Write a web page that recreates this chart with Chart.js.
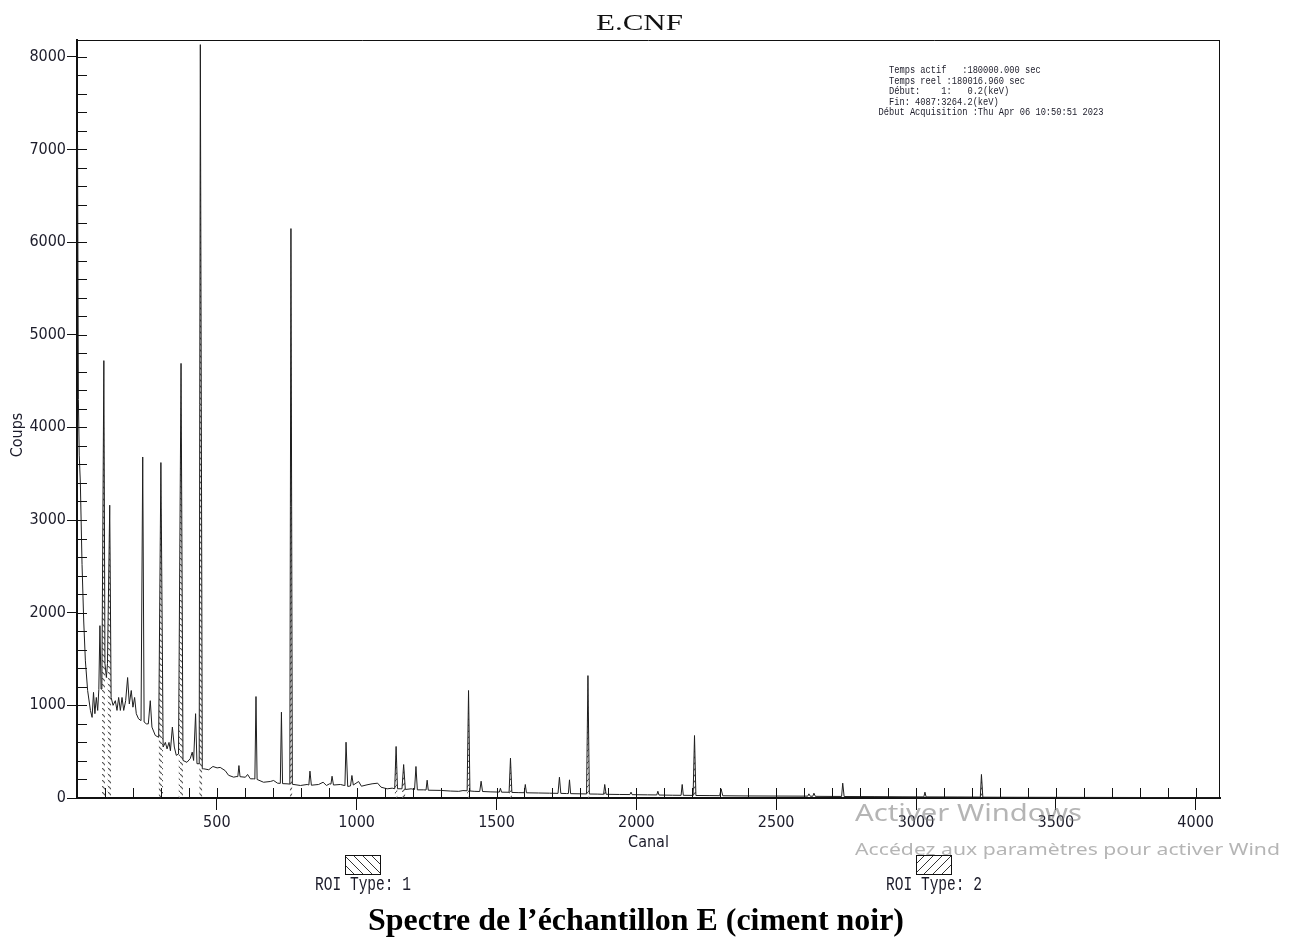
<!DOCTYPE html>
<html><head><meta charset="utf-8">
<script src="https://cdn.jsdelivr.net/npm/chart.js@4.4.1/dist/chart.umd.min.js"></script>
<style>html,body{margin:0;padding:0;background:#fff;}canvas{display:block}</style>
</head><body>
<canvas id="c" width="1293" height="937"></canvas>
<script>
// ---- data ----
const channels = [0,2,5,8,12,18,24,30,38,48,54,59,64,69,74,78,82,86,89,96,100,105,109,117,122,129,137,143,149,155,161,167,174,181,187,194,200,206,212,220,229,235,240,248,255,262,268,280,292,300,308,316,322,329,334,341,348,355,363,372,379,393,405,412,417,424,429,437,441,448,453,471,486,501,512,530,542,560,572,575,579,583,602,610,620,632,636,640,644,667,691,703,717,727,731,735,751,761,765,770,799,823,829,833,838,864,880,892,903,908,912,917,942,956,958,962,968,978,983,988,1007,1017,1037,1055,1075,1087,1109,1127,1136,1141,1146,1162,1168,1174,1195,1207,1212,1217,1240,1248,1252,1256,1299,1335,1365,1380,1395,1400,1405,1420,1440,1445,1450,1480,1510,1514,1518,1545,1550,1555,1580,1599,1603,1607,1650,1690,1720,1725,1730,1750,1757,1761,1765,1800,1822,1827,1832,1860,1883,1887,1892,1940,1977,1981,1985,2040,2073,2077,2081,2130,2160,2164,2168,2203,2208,2213,2260,2298,2303,2309,2400,2500,2613,2617,2622,2631,2635,2640,2700,2734,2738,2743,2850,2950,3028,3032,3036,3150,3230,3234,3239,3350,3500,3700,3900,4087];
const counts = [7050,7000,4300,3700,3400,2520,1910,1480,1160,945,870,1140,910,1085,945,1170,1860,1175,1230,4720,1450,1300,1450,3160,1085,1000,1050,945,1085,945,1085,945,1050,1300,1015,1160,980,1085,910,855,835,3680,820,800,800,1050,765,675,655,3620,550,600,530,600,510,765,550,460,475,4690,405,385,425,495,405,910,370,370,8130,315,315,305,340,325,330,295,245,225,232,230,350,230,224,254,207,207,205,1095,200,170,178,189,160,158,926,155,153,150,6145,148,135,146,140,290,138,146,170,135,153,150,235,140,146,135,134,602,125,130,243,140,178,127,142,153,160,117,99,106,100,556,100,99,361,92,99,92,340,88,88,86,192,84,82,75,72,80,78,1160,76,72,70,181,70,66,64,105,63,62,430,60,58,57,146,56,54,52,50,224,50,48,48,196,47,45,44,1321,43,42,40,146,40,38,37,63,36,34,33,73,32,30,29,146,29,28,674,27,26,25,99,24,22,21,20,45,19,19,52,18,17,17,160,16,15,13,12,63,12,11,10,254,9,8,7,6,5,4];
const xTickValues = [500,1000,1500,2000,2500,3000,3500,4000];
const yTickValues = [0,1000,2000,3000,4000,5000,6000,7000,8000];
const xMinorStep = 100;
const yMinorStep = 200;
const roiType1 = [[89,100],[109,122],[292,308],[363,379],[437,448]];
const roiType2 = [[761,770],[1136,1146],[1162,1174],[1395,1405],[1545,1555],[1822,1832],[1883,1892],[2203,2213],[3230,3239]];
const infoLines = ['  Temps actif   :180000.000 sec','  Temps reel :180016.960 sec','  Début:    1:   0.2(keV)','  Fin: 4087:3264.2(keV)','Début Acquisition :Thu Apr 06 10:50:51 2023'];
const chartTitle = 'E.CNF';
const xTitle = 'Canal';
const yTitle = 'Coups';
const caption = 'Spectre de l\u2019échantillon E (ciment noir)';
const roiLabels = ['ROI Type: 1','ROI Type: 2'];

const NARROW = "'DejaVu Sans Condensed','Liberation Sans Narrow',sans-serif";
const MONO = "'Liberation Mono','DejaVu Sans Mono',monospace";
const SERIF = "'Liberation Serif','Times New Roman',serif";
const INK = '#1c1c2a';

const spectrum = channels.map((c,i)=>({x:c,y:counts[i]}));
function roiData(ranges){
  const out=[];
  ranges.forEach(([a,b],k)=>{
    if(k>0) out.push({x:(ranges[k-1][1]+a)/2,y:null});
    channels.forEach((c,j)=>{ if(c>=a&&c<=b) out.push({x:c,y:counts[j]}); });
  });
  return out;
}
const cv = document.getElementById('c');
const ctx = cv.getContext('2d');
function hatch(dir){
  const t=document.createElement('canvas'); t.width=6; t.height=6;
  const g=t.getContext('2d'); g.strokeStyle='#555'; g.lineWidth=1.2; g.beginPath();
  if(dir>0){g.moveTo(-1,7);g.lineTo(7,-1);} else {g.moveTo(-1,-1);g.lineTo(7,7);}
  g.stroke();
  return ctx.createPattern(t,'repeat');
}
function fitText(c,text,x,y,width,font,color,measure){
  c.save(); c.font=font; c.fillStyle=color; c.textBaseline='alphabetic'; c.textAlign='left';
  const w=c.measureText(measure||text).width; const s=width/w;
  c.translate(x,y); c.scale(s,1); c.fillText(text,0,0); c.restore();
}
function hatchBox(c,x,y,w,h,dir){
  c.save(); c.beginPath(); c.rect(x,y,w,h); c.clip();
  c.strokeStyle='#333'; c.lineWidth=1; c.beginPath();
  for(let k=-h;k<w+h;k+=9){
    if(dir<0){c.moveTo(x+k,y);c.lineTo(x+k+h,y+h);} else {c.moveTo(x+k+h,y);c.lineTo(x+k,y+h);}
  }
  c.stroke(); c.restore();
  c.strokeStyle='#111'; c.lineWidth=1; c.strokeRect(x+0.5,y+0.5,w,h);
}

const decor = {
  id:'decor',
  afterDatasetsDraw(chart){
    const c=chart.ctx, a=chart.chartArea, xs=chart.scales.x, ys=chart.scales.y;
    c.save(); c.strokeStyle='#111'; c.lineWidth=1; c.beginPath();
    for(let v=xMinorStep; v<=xs.max; v+=xMinorStep){
      const px=Math.round(xs.getPixelForValue(v))+0.5; c.moveTo(px,a.bottom); c.lineTo(px,a.bottom-10);
    }
    for(let v=yMinorStep; v<=ys.max; v+=yMinorStep){
      const py=Math.round(ys.getPixelForValue(v))+0.5; c.moveTo(a.left,py); c.lineTo(a.left+10,py);
    }
    c.moveTo(a.left,a.top+0.5); c.lineTo(a.right,a.top+0.5);
    c.moveTo(a.right-0.5,a.top); c.lineTo(a.right-0.5,a.bottom);
    c.stroke(); c.restore();
  },
  afterDraw(chart){
    const c=chart.ctx;
    fitText(c,chartTitle,596,30,87,'24px '+SERIF,'#111');
    c.save(); c.font='10.5px '+MONO; c.fillStyle=INK;
    const cw=c.measureText('0').width; const s=5.23/cw;
    infoLines.forEach((t,i)=>{ c.save(); c.translate(878.5,73.3+i*10.4); c.scale(s,1); c.fillText(t,0,0); c.restore(); });
    c.restore();
    hatchBox(c,345,855,35,19,-1);
    hatchBox(c,916,855,35,19,1);
    fitText(c,roiLabels[0],315,890,96,'20px '+MONO,INK);
    fitText(c,roiLabels[1],886,890,96,'20px '+MONO,INK);
    fitText(c,caption,368,930,536,'bold 32px '+SERIF,'#000');
    c.save(); c.beginPath(); c.rect(0,0,1279,937); c.clip();
    fitText(c,'Activer Windows',855,821,227,'24px "Noto Sans","Open Sans",sans-serif','rgba(120,120,120,0.55)');
    fitText(c,'Accédez aux paramètres pour activer Windows.',855,855,425,'16px "Noto Sans","Open Sans",sans-serif','rgba(120,120,120,0.55)','Accédez aux paramètres pour activer Wind');
    c.restore();
  }
};

new Chart(ctx,{
  type:'line',
  data:{datasets:[
    {label:'Spectre',data:spectrum,borderColor:'#1e1e1e',borderWidth:1,pointRadius:0,fill:false,tension:0,order:0},
    {label:roiLabels[0],data:roiData(roiType1),borderWidth:0,borderColor:'rgba(0,0,0,0)',backgroundColor:hatch(-1),fill:'origin',pointRadius:0,spanGaps:false,order:1},
    {label:roiLabels[1],data:roiData(roiType2),borderWidth:0,borderColor:'rgba(0,0,0,0)',backgroundColor:hatch(1),fill:'origin',pointRadius:0,spanGaps:false,order:2}
  ]},
  options:{
    responsive:false,animation:false,devicePixelRatio:1,
    layout:{padding:{left:0,top:40,right:73,bottom:84}},
    plugins:{legend:{display:false},tooltip:{enabled:false},title:{display:false}},
    scales:{
      x:{type:'linear',min:0,max:4087,
        afterBuildTicks:s=>{s.ticks=xTickValues.map(v=>({value:v}));},
        afterFit:s=>{s.height=55;},
        ticks:{autoSkip:false,maxRotation:0,padding:3,color:INK,font:{family:NARROW,size:16},callback:v=>String(v)},
        grid:{drawOnChartArea:false,drawTicks:true,tickLength:12,color:'#111',lineWidth:1},
        border:{display:true,color:'#111',width:2},
        title:{display:true,text:xTitle,color:INK,font:{family:NARROW,size:16},padding:{top:0,bottom:1}}
      },
      y:{type:'linear',min:0,max:8180,
        afterBuildTicks:s=>{s.ticks=yTickValues.map(v=>({value:v}));},
        afterFit:s=>{s.width=77;},
        ticks:{autoSkip:false,padding:1,color:INK,font:{family:NARROW,size:16},callback:v=>String(v)},
        grid:{drawOnChartArea:false,drawTicks:true,tickLength:10,color:'#111',lineWidth:1},
        border:{display:true,color:'#111',width:2},
        title:{display:true,text:yTitle+'\u00a0'.repeat(7),color:INK,font:{family:NARROW,size:16},padding:{top:8,bottom:0}}
      }
    }
  },
  plugins:[decor]
});
</script>
</body></html>
